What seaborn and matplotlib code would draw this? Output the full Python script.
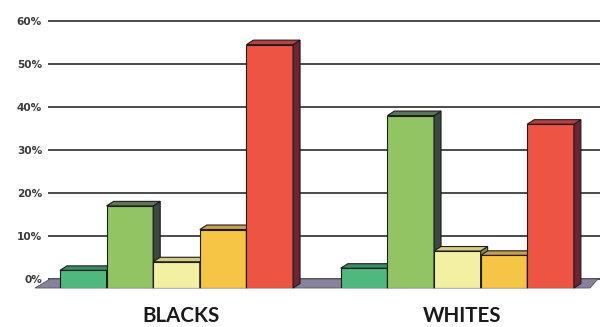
import numpy as np
import pandas as pd
import matplotlib
matplotlib.use("Agg")
import matplotlib.pyplot as plt
import matplotlib.transforms as mtransforms
from matplotlib.patches import Polygon
import seaborn as sns

# ---- data ----
groups = ["BLACKS", "WHITES"]
categories = ["Category 1", "Category 2", "Category 3", "Category 4", "Category 5"]
blacks = [2.0, 17.0, 4.0, 11.5, 54.5]
whites = [2.5, 38.0, 6.5, 5.5, 36.0]
y_ticks = [0, 10, 20, 30, 40, 50, 60]
y_tick_labels = ["0%", "10%", "20%", "30%", "40%", "50%", "60%"]

# ---- styles ----
front_colors = ["#4fb87c", "#92c464", "#f3f0a4", "#f7c546", "#ee5443"]
top_colors = ["#3a8c69", "#5d7659", "#d3cb80", "#c99d4a", "#b8413f"]
side_colors = ["#2a5c4a", "#3b4a41", "#8c8862", "#7d6232", "#6e2432"]
edge = "#1c1c1c"

df = pd.DataFrame({
    "group": np.repeat(groups, len(categories)),
    "category": categories * len(groups),
    "value": blacks + whites,
})

sns.set_style("white")
plt.rcParams["font.family"] = ["DejaVu Sans"]

fig = plt.figure(figsize=(6.0, 3.27), dpi=100)
ax = fig.add_axes([0.08, 0.11927, 0.92, 0.8297])

sns.barplot(data=df, x="group", y="value", hue="category",
            palette=front_colors, saturation=1, width=0.83, gap=0,
            edgecolor=edge, linewidth=0.8, legend=False, ax=ax)

y0 = -2.1
ax.set_xlim(-0.4576, 1.508)
ax.set_ylim(y0, 61)

for s in ax.spines.values():
    s.set_visible(False)

ax.set_yticks(y_ticks)
ax.set_yticklabels(y_tick_labels, fontsize=7.6, fontweight="bold", color="#3a3a3a")
ax.tick_params(axis="y", length=0, pad=4.3)
ax.set_xticks(range(len(groups)))
ax.set_xticklabels(groups, fontsize=14.8, fontweight="bold", color="#1a1a1a",
                   family=["Lato", "DejaVu Sans"])
ax.tick_params(axis="x", length=0, pad=13)
off = mtransforms.ScaledTranslation(3.5 / 72, 0, fig.dpi_scale_trans)
for lab in ax.get_xticklabels():
    lab.set_transform(lab.get_transform() + off)
ax.set_xlabel("")
ax.set_ylabel("")

ax.set_axisbelow(True)
ax.yaxis.grid(True, color="#1a1a1a", linewidth=1.1, zorder=0.5)
ax.xaxis.grid(False)

# ---- floor ----
ident = mtransforms.IdentityTransform()
fig.canvas.draw()
(axl, axb), (axr, axt) = ax.transAxes.transform([(0, 0), (1, 1)])
_, yb0 = ax.transData.transform((0, 0))
_, yf0 = ax.transData.transform((0, y0))
floor = Polygon([(axl - 13, yf0), (axl + 2, yb0), (axr - 2, yb0), (axr - 10, yf0)],
                closed=True, facecolor="#878299", edgecolor="#55536a",
                linewidth=0.6, transform=ident, zorder=1, clip_on=False)
ax.add_patch(floor)

# ---- 3D bars ----
dx, dy = 7.0, 4.5
bars = sorted([p for p in ax.patches if p is not floor], key=lambda p: p.get_x())
for i, p in enumerate(bars):
    h = p.get_height()
    ci = i % len(categories)
    p.set_y(y0)
    p.set_height(h - y0)
    z = 3 + 3 * i
    p.set_zorder(z)
    x0d, yb = ax.transData.transform((p.get_x(), y0))
    x1d, yt = ax.transData.transform((p.get_x() + p.get_width(), h))
    side = Polygon([(x1d, yb), (x1d + dx, yb + dy), (x1d + dx, yt + dy), (x1d, yt)],
                   closed=True, facecolor=side_colors[ci], edgecolor=edge,
                   linewidth=0.8, transform=ident, zorder=z + 1, clip_on=False)
    top = Polygon([(x0d, yt), (x1d, yt), (x1d + dx, yt + dy), (x0d + dx, yt + dy)],
                  closed=True, facecolor=top_colors[ci], edgecolor=edge,
                  linewidth=0.8, transform=ident, zorder=z + 2, clip_on=False)
    ax.add_patch(side)
    ax.add_patch(top)

fig.savefig("out.png", dpi=100)
